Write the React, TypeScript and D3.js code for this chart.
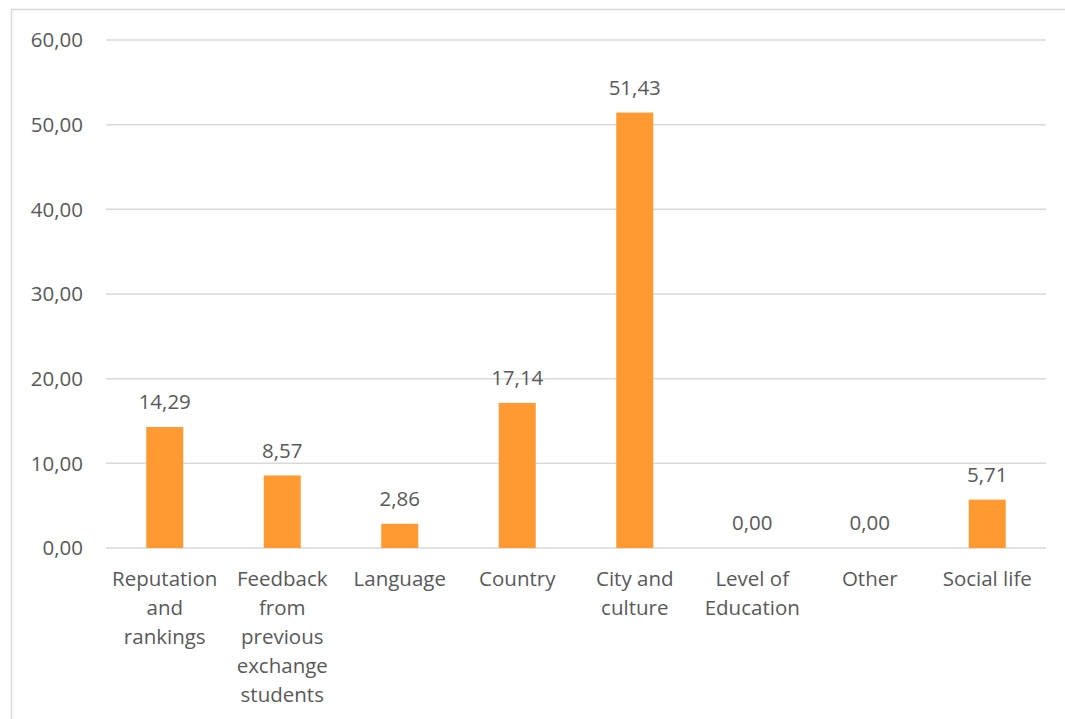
import React from "react";
import * as d3 from "d3";

const categories: string[][] = [
  ["Reputation", "and", "rankings"],
  ["Feedback", "from", "previous", "exchange", "students"],
  ["Language"],
  ["Country"],
  ["City and", "culture"],
  ["Level of", "Education"],
  ["Other"],
  ["Social life"],
];
const values: number[] = [14.29, 8.57, 2.86, 17.14, 51.43, 0, 0, 5.71];
const yTicks: number[] = [0, 10, 20, 30, 40, 50, 60];

const W = 1065;
const H = 719;
const left = 106;
const right = 1046;
const top = 40;
const bottom = 548;
const FONT = "'Open Sans', 'Noto Sans', sans-serif";
const TXT = "#595959";
const FS = 20.5;

const fmt = (v: number) => v.toFixed(2).replace(".", ",");

export default function App() {
  const x = d3
    .scaleBand<number>()
    .domain(d3.range(categories.length))
    .range([left, right])
    .paddingInner(0.685)
    .paddingOuter(0.3425);
  const y = d3.scaleLinear().domain([0, 60]).range([bottom, top]);

  return (
    <svg
      width={W}
      height={H}
      style={{ position: "absolute", left: 0, top: 0, background: "#fff" }}
      fontFamily={FONT}
    >
      <rect x={11.5} y={9.5} width={W} height={H} fill="#fff" stroke="#d9d9d9" strokeWidth={1.5} />
      {yTicks.map((t) => (
        <g key={t}>
          <line x1={left} x2={right} y1={y(t)} y2={y(t)} stroke="#d9d9d9" strokeWidth={1.5} />
          <text x={83} y={y(t)} dy="0.35em" textAnchor="end" fontSize={FS} fill={TXT}>
            {fmt(t)}
          </text>
        </g>
      ))}
      {values.map((v, i) => {
        const bx = x(i)!;
        const cx = bx + x.bandwidth() / 2;
        return (
          <g key={i}>
            {v > 0 && (
              <rect x={bx} y={y(v)} width={x.bandwidth()} height={y(0) - y(v)} fill="#ff9a33" />
            )}
            <text x={cx} y={y(v) - 25} dy="0.35em" textAnchor="middle" fontSize={FS} fill={TXT}>
              {fmt(v)}
            </text>
            {categories[i].map((line, j) => (
              <text
                key={j}
                x={cx}
                y={579 + j * 29}
                dy="0.35em"
                textAnchor="middle"
                fontSize={FS}
                fill={TXT}
              >
                {line}
              </text>
            ))}
          </g>
        );
      })}
    </svg>
  );
}
